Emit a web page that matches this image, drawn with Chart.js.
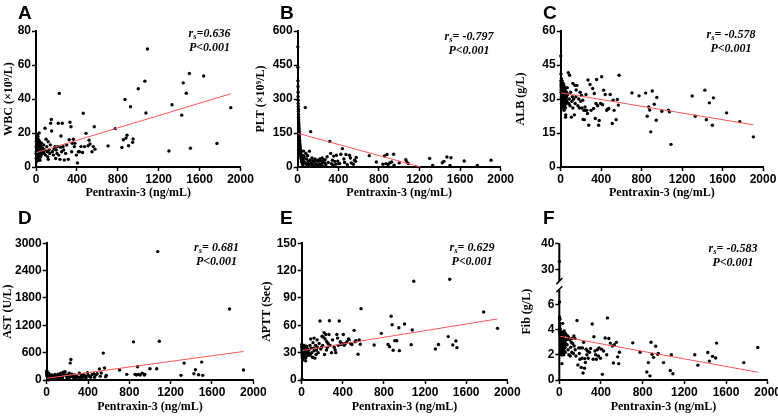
<!DOCTYPE html>
<html>
<head>
<meta charset="utf-8">
<script src="https://cdn.jsdelivr.net/npm/chart.js@4.4.0/dist/chart.umd.min.js"></script>
<style>
html, body { margin: 0; padding: 0; background: #fff; width: 778px; height: 416px; overflow: hidden; position: relative; }
.panel { position: absolute; }
.letter { position: absolute; font: bold 19px "Liberation Sans", Arial, sans-serif; line-height: 19px; color: #000; }
.stat { position: absolute; width: 90px; text-align: center; color: #000;
        font: italic bold 12px "Liberation Serif", "Times New Roman", serif; line-height: 14px; white-space: nowrap; }
.stat sub { font-size: 8.5px; vertical-align: -2px; line-height: 0; }
</style>
</head>
<body>
<script>
// Pentraxin-3 (ng/mL), shared by all six panels
var pentraxin = [
    1, 2, 2, 3, 4, 4, 5, 5, 6, 7,
    7, 8, 8, 9, 10, 10, 11, 12, 12, 13,
    14, 15, 15, 16, 17, 18, 19, 20, 20, 21,
    22, 23, 24, 25, 26, 27, 28, 29, 30, 31,
    32, 33, 34, 35, 36, 38, 39, 40, 42, 43,
    45, 46, 48, 50, 52, 54, 55, 57, 58, 60,
    65, 70, 75, 80, 85, 88, 92, 98, 105, 110,
    115, 120, 120, 128, 135, 140, 143, 150, 153, 160,
    170, 178, 186, 192, 198,
    205, 210, 218, 222, 228, 234, 241, 244, 250, 257,
    265, 270, 277, 290, 300, 316, 325, 332, 342, 349,
    355, 365, 375, 381, 395, 405, 414, 425, 440, 455,
    462, 475, 489, 510, 519, 528, 548, 560, 570, 577,
    705, 775, 840, 855, 870, 880, 890, 905, 925, 945,
    950, 1000, 1065, 1075, 1090, 1300, 1330, 1425, 1440, 1470,
    1500, 1510, 1640, 1770, 1905
];

var wbc = [
    8, 12, 5, 15, 9, 3, 11, 17, 7, 13,
    6, 10, 14, 4, 16, 8, 12, 19, 9, 5,
    11, 7, 15, 10, 13, 6, 18, 8, 12, 4,
    9, 14, 7, 11, 16, 5, 10, 13, 8, 20,
    6, 12, 9, 15, 7, 11, 4, 10, 8, 13,
    6, 9, 12, 7, 10, 14, 8, 11, 9, 10,
    11, 9, 13, 8, 10, 22.8, 7, 16.3, 12, 9,
    6, 14.9, 4.5, 10, 8, 13, 25.7, 28, 21.2, 9,
    7, 10.5, 12, 5, 10,
    8, 12, 25.7, 7, 43.3, 4.5, 11.6, 18.2, 9, 25.7,
    12, 10, 4.1, 8, 13, 4.5, 16, 26.3, 23.7, 9,
    13.9, 16.3, 12, 13.9, 7, 2.4, 9, 9, 12, 8.5,
    31.6, 12, 19.8, 12.5, 15.7, 13.5, 9, 12, 23.7, 10.5,
    12.4, 22.6, 11.5, 16, 39.7, 17, 18.7, 12.5, 35.4, 14.5,
    16.5, 46, 50.5, 31.8, 69.4, 9.4, 36.6, 30.5, 49.5, 43.4,
    55, 11, 53.5, 13.8, 34.9
];

var plt = [
    530, 440, 380, 355, 330, 310, 295, 280, 268, 255,
    245, 232, 220, 210, 200, 192, 185, 178, 170, 162,
    155, 148, 140, 132, 125, 118, 112, 105, 100, 95,
    90, 85, 80, 76, 72, 68, 64, 60, 56, 52,
    48, 45, 42, 38, 35, 32, 30, 27, 25, 22,
    20, 18, 15, 12, 10, 30, 50, 70, 25, 40,
    45, 20, 262, 60, 15, 35, 8, 50, 25, 12,
    70, 5, 30, 156, 18, 40, 10, 28, 6, 22,
    35, 12, 26, 8, 30,
    25, 12, 35, 8, 28, 15, 40, 5, 22, 30,
    18, 32, 10, 45, 20, 113, 60, 15, 30, 8,
    48, 25, 12, 52, 26, 15, 15, 56, 81, 35,
    20, 55, 10, 52, 40, 18, 12, 30, 25, 42,
    50, 22, 12, 49, 15, 55, 10, 18, 22, 56,
    8, 18, 32, 22, 15, 38, 7, 19, 25, 44,
    7, 41, 26.5, 7, 29.5
];

var alb = [
    49, 41, 38, 36, 34, 33, 35, 37, 31, 30,
    39, 32, 28, 34, 36, 29, 33, 35, 27, 31,
    38, 30, 32, 26, 34, 36, 29, 33, 31, 28,
    35, 37, 30, 32, 27, 33, 29, 34, 31, 30,
    36, 25, 32, 28, 33, 30, 35, 27, 31, 29,
    34, 26, 22, 23, 32, 30, 28, 33, 31, 29,
    35, 32, 41.6, 28, 30, 40.5, 27, 33, 22, 29,
    31, 26, 36.9, 30, 23, 36, 28, 31, 34, 36,
    27, 30, 26, 33, 29,
    31.7, 26, 29.5, 21, 25, 20.9, 26.5, 25, 32, 25,
    23.6, 38.4, 18.4, 36.4, 25, 34.6, 25.8, 32.4, 21.4, 28,
    38.6, 27, 18.4, 20.5, 28, 39.8, 27.5, 33.9, 32, 25,
    25.5, 25.8, 32, 19.2, 29.5, 25, 20.9, 29.8, 27.3, 40.5,
    32.7, 31.4, 32.6, 22.4, 26.5, 25.1, 15.5, 33.5, 27.7, 20.6,
    30.7, 24.6, 25.1, 24.3, 10, 31.3, 22.4, 33.9, 20.9, 28.3,
    18.4, 30.5, 23.9, 20, 13.3
];

var ast = [
    200, 180, 160, 150, 140, 130, 120, 110, 100, 95,
    90, 85, 80, 75, 70, 65, 60, 55, 50, 45,
    40, 35, 30, 25, 20, 15, 10, 5, 150, 120,
    100, 90, 80, 70, 60, 55, 50, 45, 40, 35,
    30, 25, 20, 60, 80, 100, 40, 50, 70, 30,
    90, 20, 60, 110, 45, 35, 75, 55, 25, 65,
    60, 90, 40, 120, 70, 30, 100, 80, 50, 130,
    60, 90, 40, 70, 150, 110, 60, 85, 45, 170,
    120, 180, 100, 70, 50,
    120, 90, 150, 60, 371, 451, 80, 130, 100, 60,
    70, 110, 40, 90, 60, 150, 50, 80, 120, 60,
    124, 70, 90, 50, 160, 100, 80, 60, 120, 140,
    60, 110, 138, 240, 80, 153, 590, 262, 73, 100,
    218, 124, 837, 124, 110, 291, 124, 110, 150, 110,
    124, 248, 248, 2818, 852, 102, 371, 138, 226, 116,
    393, 102, null, 1558, 218
];

var aptt = [
    39, 37, 35, 1, 33, 32, 31, 30, 29, 28,
    27, 26, 25, 24, 23, 22, 36, 34, 32, 30,
    28, 26, 33, 31, 29, 27, 35, 32, 30, 28,
    26, 38, 34, 31, 29, 27, 25, 33, 30, 28,
    36, 32, 29, 27, 24, 21, 35, 31, 28, 33,
    30, 26, 37, 32, 29, 34, 31, 28, 34, 30,
    30, 33, 27, 38, 28, 45, 35, 30, 25, 41,
    35, 46, 32, 24, 38, 28, 33, 44, 36, 30,
    40, 64.8, 34, 36, 48,
    38, 47, 52, 28, 45, 50, 33, 42, 36, 40,
    50, 65, 38, 30, 44, 36, 33, 30, 50, 46,
    38, 64.8, 42, 39, 40, 50, 38, 40, 42, 45,
    44.3, 40, 39, 54.5, 42, 43, 28.2, 43.9, 39.2, 78.3,
    38.4, 51.2, 39, 36.6, 69.9, 60.7, 32.6, 43.2, 43, 57.4,
    32.2, 61.5, 38.8, 54.9, 108.3, 34, 39, 47.6, 110.5, 38.4,
    42.8, 35.5, null, 74.6, 56.7
];

var fib = [
    33, 6.2, 5.0, 4.9, 4.85, 4.8, 4.5, 4.3, 4.1, 4.0,
    3.9, 3.85, 3.8, 3.7, 3.6, 3.5, 3.4, 3.3, 3.2, 3.1,
    3.0, 2.95, 2.9, 2.8, 2.7, 2.6, 2.5, 2.4, 2.3, 2.2,
    2.1, 2.0, 2.0, 1.3, 3.5, 3.2, 2.8, 3.0, 3.8, 2.6,
    4.5, 2.4, 3.3, 2.9, 2.1, 3.6, 2.7, 3.1, 2.0, 3.4,
    2.5, 3.9, 2.3, 2.8, 3.0, 3.2, 2.6, 3.7, 2.2, 2.9,
    3.6, 3.2, 2.8, 3.5, 2.4, 3.4, 2.0, 3.2, 1.9, 2.6,
    3.0, 2.2, 3.3, 2.9, 2.1, 3.5, 2.7, 3.3, 2.4, 1.9,
    4.72, 1.2, 2.55, 2.1, 1.65,
    2.55, 1.0, 1.73, 2.55, 0.55, 2.99, 0.93, 1.7, 1.39, 2.45,
    2.0, 2.3, 1.73, 2.2, 2.5, 4.45, 1.65, 3.44, 2.3, 2.0,
    1.65, 2.4, 1.9, 2.55, 1.73, 2.45, 0.45, 2.3, 3.33, 2.0,
    4.93, 3.3, 2.93, 2.7, 1.35, 2.8, 2.99, 1.84, 1.3, 2.2,
    2.95, 2.2, 0.63, 1.38, 0.33, 3.0, 2.05, 1.8, 2.68, 2.05,
    2.1, 1.38, 0.75, 2.0, 0.5, 2.0, 1.18, 2.18, 1.5, 1.88,
    1.75, 2.93, null, 1.38, 2.58
];

// regression lines, ends [x, y]
var wbcFit = [[5, 8.5], [1905, 43.1]];
var pltFit = [[5, 148.4], [1212, 0]];
var albFit = [[5, 32.7], [1905, 18.6]];
var astFit = [[5, 40], [1905, 626]];
var apttFit = [[5, 32.4], [1905, 67]];
var fibFit = [[5, 3.47], [1905, 0.62]];

var xTicks = [0, 400, 800, 1200, 1600, 2000];
var fibTicks = [0, 2, 4, 6, 30, 40];

// Fib axis is broken between 7.2 and 25.4
var fibBreakLow = 7.2, fibBreakHigh = 25.4;
function tf(v) { return v <= fibBreakLow ? v : 8.8 + (v - 30) * 0.2056; }
function untf(t) { return t <= fibBreakLow + 0.1 ? t : 30 + (t - 8.8) / 0.2056; }

var tickFont = { family: '"Liberation Sans", Arial, sans-serif', size: 12, weight: 'bold' };
var titleFont = { family: '"Liberation Serif", "DejaVu Serif", serif', size: 12, weight: 'bold', lineHeight: 1 };

function plainLabel(val) { return String(Math.round(val)); }

var brokenAxis = {
    id: 'brokenAxis',
    afterDraw: function (chart) {
        if (!chart.options.plugins.brokenAxis.on) return;
        var ctx = chart.ctx, a = chart.chartArea, y = chart.scales.y;
        var x = a.left;
        var yHi = y.getPixelForValue(tf(fibBreakHigh));
        var yLo = y.getPixelForValue(tf(fibBreakLow));
        ctx.save();
        ctx.strokeStyle = '#000';
        ctx.lineWidth = 2;
        ctx.beginPath();
        ctx.moveTo(x, a.top); ctx.lineTo(x, yHi);
        ctx.moveTo(x, yLo); ctx.lineTo(x, a.bottom + 1);
        ctx.stroke();
        ctx.lineWidth = 1.5;
        ctx.beginPath();
        ctx.moveTo(x - 3, yHi + 3); ctx.lineTo(x + 3, yHi - 3);
        ctx.moveTo(x - 3, yLo + 3); ctx.lineTo(x + 3, yLo - 3);
        ctx.stroke();
        ctx.restore();
    }
};

function makePanel(p) {
    var wrap = document.createElement('div');
    wrap.className = 'panel';
    wrap.style.left = p.left + 'px';
    wrap.style.top = p.top + 'px';
    wrap.style.width = p.w + 'px';
    wrap.style.height = p.h + 'px';
    var canvas = document.createElement('canvas');
    canvas.width = p.w;
    canvas.height = p.h;
    canvas.style.width = p.w + 'px';
    canvas.style.height = p.h + 'px';
    wrap.appendChild(canvas);
    document.body.appendChild(wrap);

    var map = p.map || function (v) { return v; };
    var pts = [];
    pentraxin.forEach(function (x, i) {
        if (p.values[i] != null) pts.push({ x: x, y: map(p.values[i]) });
    });
    var fit = p.fit.map(function (d) { return { x: d[0], y: map(d[1]) }; });

    var yScale = {
        type: 'linear',
        min: p.yMin,
        max: p.yMax,
        ticks: { stepSize: p.yStep, font: tickFont, color: '#000', padding: 1, autoSkip: false, callback: plainLabel },
        grid: { display: true, drawOnChartArea: false, drawTicks: true, tickLength: 4, tickWidth: 1.5, tickColor: '#000' },
        border: { display: !p.broken, color: '#000', width: 2 },
        title: { display: true, text: p.yTitle, font: titleFont, color: '#000', padding: { top: p.yTitlePad, bottom: 0 } },
        afterFit: function (s) { s.width = p.yW; }
    };
    if (p.broken) {
        yScale.afterBuildTicks = function (s) {
            s.ticks = fibTicks.map(function (v) { return { value: tf(v) }; });
        };
        yScale.ticks.callback = function (val) { return String(Math.round(untf(val))); };
    }

    new Chart(canvas, {
        type: 'scatter',
        data: {
            datasets: [
                { data: fit, type: 'line', showLine: true, borderColor: 'rgb(255,85,85)', borderWidth: 1,
                  pointRadius: 0, fill: false, order: 0, clip: false },
                { data: pts, pointRadius: 1.7, pointBackgroundColor: '#000', pointBorderWidth: 0,
                  pointBorderColor: '#000', order: 1, clip: false }
            ]
        },
        options: {
            responsive: false,
            animation: false,
            layout: { padding: { left: 0, top: p.padTop, right: p.padRight, bottom: 0 } },
            plugins: { legend: { display: false }, tooltip: { enabled: false }, brokenAxis: { on: !!p.broken } },
            scales: {
                x: {
                    type: 'linear',
                    min: 0,
                    max: 2000,
                    afterBuildTicks: function (s) { s.ticks = xTicks.map(function (v) { return { value: v }; }); },
                    ticks: { font: tickFont, color: '#000', padding: 1.5, maxRotation: 0, autoSkip: false, callback: plainLabel },
                    grid: { display: true, drawOnChartArea: false, drawTicks: true, tickLength: 4, tickWidth: 1.5, tickColor: '#000' },
                    border: { display: true, color: '#000', width: 2 },
                    title: { display: true, text: 'Pentraxin-3 (ng/mL)', font: titleFont, color: '#000', padding: { top: 0, bottom: p.xTitlePad } },
                    afterFit: function (s) { s.height = p.xH; }
                },
                y: yScale
            }
        },
        plugins: [brokenAxis]
    });

    var letter = document.createElement('div');
    letter.className = 'letter';
    letter.textContent = p.letter;
    letter.style.left = p.letterX + 'px';
    letter.style.top = (p.top + 2.5) + 'px';
    document.body.appendChild(letter);

    var stat = document.createElement('div');
    stat.className = 'stat';
    stat.innerHTML = 'r<sub>s</sub>=' + p.r + '<br>P&lt;0.001';
    stat.style.left = (p.statX - 45) + 'px';
    stat.style.top = (p.statY - 7) + 'px';
    document.body.appendChild(stat);
}

makePanel({ letter: 'A', letterX: 18, left: 0, top: 0, w: 270, h: 203, yW: 36, padTop: 31, padRight: 29.5, xH: 36,
    xTitlePad: 4, yTitlePad: 3.3, yTitle: 'WBC (×10⁹/L)', yMin: 0, yMax: 80, yStep: 20,
    values: wbc, fit: wbcFit, r: '0.636', statX: 209.5, statY: 33 });
makePanel({ letter: 'B', letterX: 280, left: 255, top: 0, w: 270, h: 203, yW: 42.7, padTop: 31, padRight: 24.3, xH: 36,
    xTitlePad: 4, yTitlePad: 0, yTitle: 'PLT (×10⁹/L)', yMin: 0, yMax: 600, yStep: 150,
    values: plt, fit: pltFit, r: ' -0.797', statX: 469, statY: 36 });
makePanel({ letter: 'C', letterX: 543, left: 515, top: 0, w: 275, h: 203, yW: 45.7, padTop: 31, padRight: 27, xH: 36,
    xTitlePad: 4, yTitlePad: 0, yTitle: 'ALB (g/L)', yMin: 0, yMax: 60, yStep: 15,
    values: alb, fit: albFit, r: ' -0.578', statX: 731, statY: 34 });
makePanel({ letter: 'D', letterX: 18, left: 0, top: 205, w: 280, h: 211, yW: 46.7, padTop: 38.3, padRight: 26.7, xH: 36,
    xTitlePad: 3.3, yTitlePad: 2.3, yTitle: 'AST (U/L)', yMin: 0, yMax: 3000, yStep: 600,
    values: ast, fit: astFit, r: ' 0.681', statX: 216.5, statY: 247 });
makePanel({ letter: 'E', letterX: 280, left: 255, top: 205, w: 275, h: 211, yW: 46.7, padTop: 38.3, padRight: 22.7, xH: 36,
    xTitlePad: 3.3, yTitlePad: 5.7, yTitle: 'APTT (Sec)', yMin: 0, yMax: 150, yStep: 30,
    values: aptt, fit: apttFit, r: ' 0.629', statX: 472, statY: 247 });
makePanel({ letter: 'F', letterX: 543, left: 515, top: 205, w: 275, h: 211, yW: 44.3, padTop: 38.3, padRight: 22.3, xH: 36,
    xTitlePad: 3.3, yTitlePad: 5.7, yTitle: 'Fib (g/L)', yMin: 0, yMax: tf(40), yStep: 2,
    values: fib, fit: fibFit, map: tf, broken: true, r: ' -0.583', statX: 733, statY: 248 });
</script>
</body>
</html>
